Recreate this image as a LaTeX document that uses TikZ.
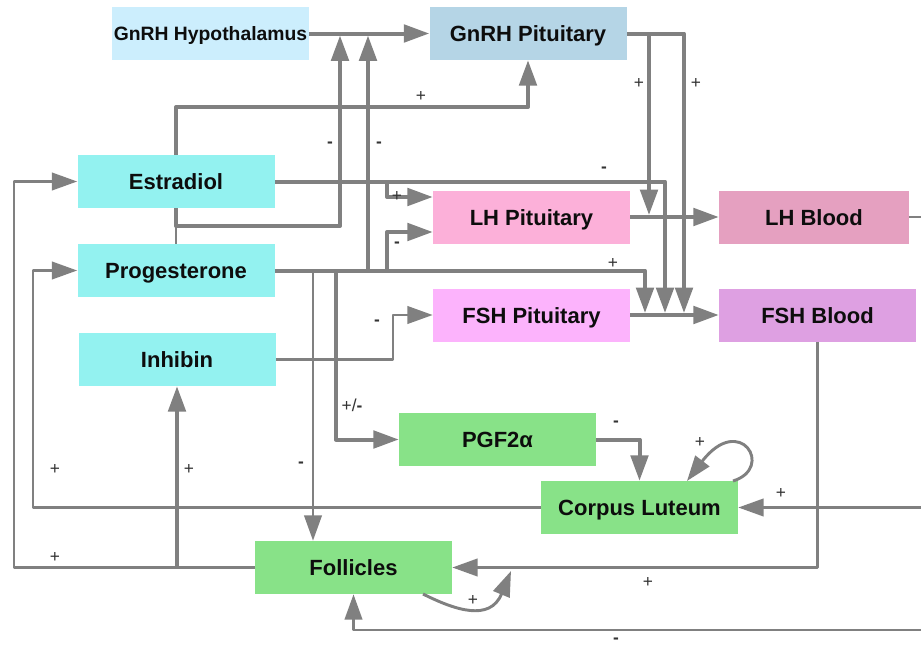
\documentclass[tikz,border=0pt]{standalone}
\usepackage{fontspec}
\setmainfont{Liberation Sans}
\usetikzlibrary{arrows.meta}
\definecolor{hypc}{HTML}{CCEEFD}
\definecolor{gpitc}{HTML}{B5D5E6}
\definecolor{cyanc}{HTML}{93F2F0}
\definecolor{lhpc}{HTML}{FCB0D9}
\definecolor{lhbc}{HTML}{E5A0C0}
\definecolor{fshpc}{HTML}{FCB3FC}
\definecolor{fshbc}{HTML}{DEA0E2}
\definecolor{greenc}{HTML}{88E288}
\definecolor{linec}{HTML}{808080}
\begin{document}
\begin{tikzpicture}[x=0.75pt,y=-0.75pt,
  box/.style={rectangle, minimum width=147.75pt, minimum height=39.75pt, inner sep=0pt,
    text height=12pt, text depth=0pt,
    font=\fontsize{16.5}{18}\selectfont\bfseries, text=black!95},
  lbl/.style={inner sep=0pt, font=\fontsize{13}{14}\selectfont, text=black!80},
  thickl/.style={draw=linec, line width=3pt, line join=round},
  thinl/.style={draw=linec, line width=2.2pt, line join=round},
  tip/.style={-{Triangle[length=19pt,width=13pt]}},
  conn/.style={thickl, tip},
  connthin/.style={thinl, tip}
]
\useasboundingbox (0,0) rectangle (921,646);
\fill[white] (0,0) rectangle (921,646);
% nodes
\node[box, fill=hypc, text height=10.5pt, font=\fontsize{14.5}{16}\selectfont\bfseries] (hyp) at (210.5,33.5) {GnRH Hypothalamus};
\node[box, fill=gpitc] (gpit) at (528,33.5) {GnRH Pituitary};
\node[box, fill=cyanc] (est) at (176,181.5) {Estradiol};
\node[box, fill=cyanc] (prog) at (176,270.5) {Progesterone};
\node[box, fill=cyanc] (inh) at (177,359.5) {Inhibin};
\node[box, fill=lhpc] (lhp) at (531.5,217) {LH Pituitary};
\node[box, fill=lhbc, minimum width=142.5pt] (lhb) at (814,217) {LH Blood};
\node[box, fill=fshpc] (fshp) at (531.5,315) {FSH Pituitary};
\node[box, fill=fshbc] (fshb) at (817.5,315) {FSH Blood};
\node[box, fill=greenc] (pgf) at (497.5,439.5) {PGF2α};
\node[box, fill=greenc] (cl) at (639.5,507.5) {Corpus Luteum};
\node[box, fill=greenc] (fol) at (353.5,567.5) {Follicles};
% junction coordinates
\coordinate (jA) at (340,35.5);
\coordinate (jB) at (368,35.5);
\coordinate (pA) at (387,197);
\coordinate (pB) at (387,232);
\coordinate (pC) at (313,270.5);
% connectors
\draw[conn] (hyp) -- (gpit);
\draw[conn] (est.north) -- (176,107) -| (gpit.south);
\draw[conn] (est.south) -- (176,226) -| (jA);
\draw[thinl] (prog.north) -- (176,226);
\draw[conn] (prog.east) -- (645,270.5) -- (645,313);
\draw[conn] (368,270.5) -- (jB);
\draw[conn] (387,270.5) -- (pB) -- (pB -| lhp.west);
\draw[connthin] (pC) -- (pC |- fol.north);
\draw[conn] (336,270.5) -- (336,439.5) -- (pgf.west);
\draw[conn] (est.east) -- (665,181.5) -- (665,313);
\draw[conn] (387,181.5) -- (pA) -- (pA -| lhp.west);
\draw[conn] (gpit.east) -- (684,33.5) -- (684,313);
\draw[conn] (649,33.5) -- (649,215);
\draw[conn] (lhp) -- (lhb);
\draw[conn] (fshp) -- (fshb);
\draw[thinl] (lhb.east) -- (921,217);
\draw[connthin] (921,507.5) -- (cl.east);
\draw[connthin] (921,630) -| (fol.south);
\draw[connthin] (fshb.south) |- (fol.east);
\draw[connthin] (cl.west) -- (33,507.5) |- (prog.west);
\draw[connthin] (fol.west) -- (14,567.5) |- (est.west);
\draw[conn] (177,567.5) -- (inh.south);
\draw[connthin] (inh.east) -- (393,359.5) |- (fshp.west);
\draw[conn] (pgf.east) -| (cl.north);
\draw[connthin] (733,481) .. controls (775,468) and (740,412) .. (687,481);
\draw[connthin] (423,594) .. controls (455,610) and (490,622) .. (511,571);
% labels
\node[lbl] (t1) at (421,96) {+};
\node[lbl] (t2) at (330,145) {\bfseries -};
\node[lbl] (t3) at (379,145) {\bfseries -};
\node[lbl] (t4) at (639,83) {+};
\node[lbl] (t5) at (696,83) {+};
\node[lbl] (t6) at (604,170) {\bfseries -};
\node[lbl] (t7) at (397,196) {+};
\node[lbl] (t8) at (397,245) {\bfseries -};
\node[lbl] (t9) at (613,263) {+};
\node[lbl] (t10) at (377,323) {\bfseries -};
\node[lbl] (t11) at (352,405) {+/\textbf{-}};
\node[lbl] (t12) at (301,465) {\bfseries -};
\node[lbl] (t13) at (55,469) {+};
\node[lbl] (t14) at (189,469) {+};
\node[lbl] (t15) at (55,557) {+};
\node[lbl] (t16) at (616,424) {\bfseries -};
\node[lbl] (t17) at (700,442) {+};
\node[lbl] (t18) at (781,493) {+};
\node[lbl] (t19) at (648,582) {+};
\node[lbl] (t20) at (473,600) {+};
\node[lbl, text height=2pt, text depth=0pt, anchor=south] (t21) at (616,644) {\bfseries -};
\end{tikzpicture}
\end{document}
